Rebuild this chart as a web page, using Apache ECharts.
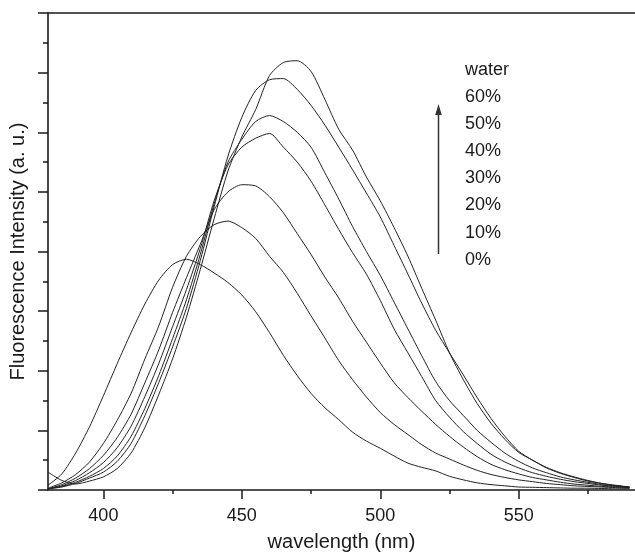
<!DOCTYPE html>
<html>
<head>
<meta charset="utf-8">
<script src="https://cdn.jsdelivr.net/npm/echarts@6/dist/echarts.min.js"></script>
<style>
  html, body { margin: 0; padding: 0; background: #fff; }
  #chart { width: 635px; height: 557px; }
</style>
</head>
<body>
<div id="chart"></div>
<script>
// wavelength grid (nm)
var wavelength = [380,385,390,395,400,405,410,415,420,425,430,435,440,445,450,455,460,465,470,475,480,485,490,495,500,505,510,515,520,525,530,535,540,545,550,555,560,565,570,575,580,585,590];

// intensity, one list per water fraction
var w0  = [0.08,0.27,0.62,1.06,1.58,2.12,2.64,3.12,3.52,3.78,3.87,3.78,3.64,3.48,3.27,2.99,2.64,2.26,1.92,1.62,1.38,1.18,0.97,0.82,0.70,0.57,0.45,0.38,0.32,0.23,0.17,0.12,0.09,0.07,0.05,0.045,0.04,0.035,0.03,0.03,0.025,0.02,0.02];
var w10 = [0.03,0.12,0.26,0.47,0.78,1.17,1.62,2.20,2.75,3.40,3.92,4.25,4.45,4.51,4.40,4.22,3.92,3.65,3.30,2.92,2.55,2.17,1.85,1.56,1.30,1.10,0.93,0.76,0.62,0.52,0.42,0.33,0.26,0.21,0.17,0.14,0.11,0.09,0.07,0.06,0.05,0.04,0.03];
var w20 = [0.02,0.09,0.20,0.36,0.58,0.88,1.27,1.80,2.35,2.98,3.56,4.12,4.70,5.00,5.12,5.10,4.92,4.65,4.30,3.95,3.57,3.22,2.83,2.48,2.13,1.80,1.55,1.32,1.10,0.90,0.72,0.56,0.43,0.34,0.27,0.21,0.17,0.13,0.10,0.08,0.06,0.05,0.04];
var w30 = [0.02,0.07,0.16,0.29,0.46,0.71,1.07,1.57,2.12,2.74,3.36,4.05,4.85,5.45,5.75,5.90,5.98,5.75,5.50,5.18,4.78,4.37,3.98,3.62,3.18,2.70,2.30,1.90,1.50,1.22,0.98,0.78,0.60,0.47,0.37,0.29,0.23,0.18,0.14,0.11,0.08,0.06,0.04];
var w40 = [0.02,0.06,0.13,0.23,0.36,0.57,0.90,1.37,1.92,2.54,3.19,3.95,4.80,5.50,5.88,6.18,6.28,6.18,6.00,5.75,5.32,4.88,4.42,4.00,3.60,3.15,2.70,2.25,1.82,1.50,1.25,1.00,0.80,0.62,0.48,0.37,0.29,0.22,0.17,0.13,0.09,0.07,0.05];
var w50 = [0.02,0.05,0.11,0.20,0.30,0.48,0.78,1.25,1.80,2.40,3.05,3.85,4.75,5.60,6.25,6.70,6.88,6.90,6.72,6.45,6.12,5.75,5.37,4.98,4.58,4.10,3.62,3.13,2.68,2.30,1.93,1.55,1.20,0.90,0.65,0.50,0.37,0.28,0.21,0.15,0.11,0.08,0.05];
var w60 = [0.30,0.16,0.10,0.15,0.22,0.36,0.62,1.05,1.60,2.20,2.90,3.70,4.55,5.35,5.92,6.38,6.95,7.17,7.20,7.02,6.55,6.05,5.70,5.25,4.85,4.40,3.92,3.38,2.85,2.30,1.85,1.45,1.12,0.85,0.63,0.50,0.38,0.29,0.22,0.16,0.11,0.07,0.05];

var seriesNames = ['0%','10%','20%','30%','40%','50%','60%'];
var seriesValues = [w0, w10, w20, w30, w40, w50, w60];
var legendLabels = ['water','60%','50%','40%','30%','20%','10%','0%'];

var xMajor = [400, 450, 500, 550];
var xMinor = [425, 475, 525, 575];

var font = 'Liberation Sans, Arial, sans-serif';
var ink = '#1a1a1a';

var chart = echarts.init(document.getElementById('chart'));

function pairs(vals) {
  var out = [];
  for (var i = 0; i < wavelength.length; i++) out.push([wavelength[i], vals[i]]);
  return out;
}

var series = seriesValues.map(function (v, i) {
  return {
    name: seriesNames[i],
    type: 'line',
    xAxisIndex: 0,
    data: pairs(v),
    showSymbol: false,
    smooth: 0.25,
    lineStyle: { color: '#222', width: 1 },
    silent: true,
    animation: false
  };
});

// text block + arrow at the upper right
var graphics = legendLabels.map(function (t, i) {
  return {
    type: 'text',
    x: 465,
    y: 70 + i * 27.1,
    style: { text: t, font: '18px ' + font, fill: ink, verticalAlign: 'middle' }
  };
});
graphics.push({
  type: 'line',
  shape: { x1: 438.5, y1: 254, x2: 438.5, y2: 112 },
  style: { stroke: '#333', lineWidth: 1.5 }
});
graphics.push({
  type: 'polygon',
  shape: { points: [[438.5, 104], [435.2, 115], [441.8, 115]] },
  style: { fill: '#333' }
});

var axisLine = { show: true, lineStyle: { color: ink, width: 1.6 } };

chart.setOption({
  animation: false,
  grid: { left: 48, right: 0, top: 13, bottom: 62, containLabel: false },
  xAxis: [
    {
      type: 'value', position: 'bottom', min: 380, max: 592,
      axisLine: axisLine,
      axisTick: { show: true, length: 9, customValues: xMajor, lineStyle: { color: ink, width: 1.5 } },
      axisLabel: { show: true, customValues: xMajor, margin: 17, fontSize: 18, fontFamily: font, color: ink },
      splitLine: { show: false },
      name: 'wavelength (nm)', nameLocation: 'middle', nameGap: 42,
      nameTextStyle: { fontSize: 20, fontFamily: font, color: ink }
    },
    {
      type: 'value', position: 'bottom', min: 380, max: 592,
      axisLine: { show: false },
      axisTick: { show: true, length: 4, customValues: xMinor, lineStyle: { color: ink, width: 1.5 } },
      axisLabel: { show: false },
      splitLine: { show: false }
    },
    {
      type: 'value', position: 'top', min: 380, max: 592,
      axisLine: axisLine,
      axisTick: { show: false },
      axisLabel: { show: false },
      splitLine: { show: false }
    }
  ],
  yAxis: {
    type: 'value', min: 0, max: 8, interval: 1,
    axisLine: axisLine,
    axisTick: { show: true, length: 10, lineStyle: { color: ink, width: 1.5 } },
    minorTick: { show: true, splitNumber: 2, length: 5, lineStyle: { color: ink, width: 1.5 } },
    axisLabel: { show: false },
    splitLine: { show: false },
    minorSplitLine: { show: false },
    name: 'Fluorescence Intensity (a. u.)', nameLocation: 'middle', nameGap: 20,
    nameTextStyle: { fontSize: 20, fontFamily: font, color: ink }
  },
  series: series,
  graphic: graphics
});
</script>
</body>
</html>
